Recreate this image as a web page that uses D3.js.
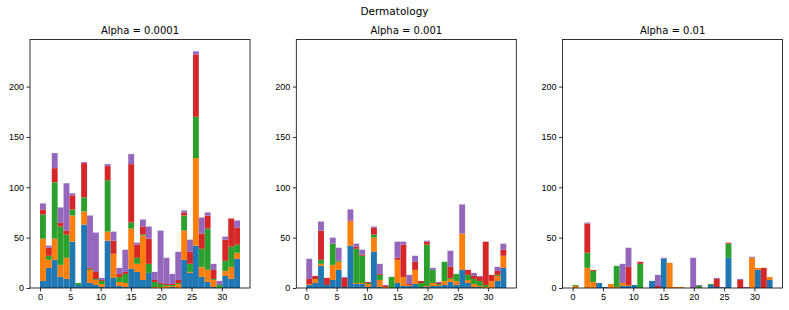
<!DOCTYPE html>
<html>
<head>
<meta charset="utf-8">
<script src="https://cdn.jsdelivr.net/npm/d3@7/dist/d3.min.js"></script>
<style>
  body { margin: 0; background: #fff; }
  svg { display: block; font-family: "DejaVu Sans", sans-serif; }
</style>
</head>
<body>
<div id="chart"></div>
<script>
// bins (one bar per feature index)
const bins = [0, 1, 2, 3, 4, 5, 6, 7, 8, 9, 10, 11, 12, 13, 14, 15, 16, 17, 18, 19, 20,
  21, 22, 23, 24, 25, 26, 27, 28, 29, 30, 31, 32, 33];
const xTicks = [0, 5, 10, 15, 20, 25, 30];
const yTicks = [0, 50, 100, 150, 200];
const suptitle = 'Dermatology';
const panelTitles = ['Alpha = 0.0001', 'Alpha = 0.001', 'Alpha = 0.01'];
const seriesKeys = ['c1', 'c2', 'c3', 'c4', 'c5'];
const seriesColors = ['#1f77b4', '#ff7f0e', '#2ca02c', '#d62728', '#9467bd'];

// Alpha = 0.0001
const a1Blue   = [7, 20, 28, 11, 9, 46, 3, 63, 5, 3, 1, 47, 10, 2, 1, 19, 16, 8, 15, 0, 0, 0, 1, 0, 28, 15, 42, 11, 6, 1, 0, 12, 9, 29];
const a1Orange = [42, 8, 21, 12, 21, 26, 0, 13, 13, 5, 3, 9, 24, 4, 4, 40, 8, 44, 0, 1, 1, 2, 1, 4, 29, 1, 87, 10, 12, 7, 0, 5, 12, 6];
const a1Green  = [24, 4, 56, 38, 23, 6, 2, 14, 1, 1, 3, 51, 0, 5, 9, 6, 6, 1, 9, 5, 3, 1, 1, 1, 15, 8, 41, 18, 41, 1, 3, 10, 20, 8];
const a1Red    = [5, 8, 14, 4, 4, 14, 0, 34, 1, 7, 1, 14, 13, 3, 2, 58, 13, 8, 25, 2, 1, 1, 1, 3, 3, 12, 62, 15, 13, 9, 0, 21, 28, 17];
const a1Purple = [6, 2, 15, 15, 47, 2, 0, 1, 52, 39, 2, 2, 9, 6, 22, 10, 2, 7, 12, 8, 52, 26, 10, 28, 2, 12, 3, 16, 3, 6, 4, 3, 0, 7];

// Alpha = 0.001
const a2Blue   = [3, 5, 22, 3, 8, 18, 1, 42, 4, 4, 1, 36, 1, 0, 0, 5, 2, 2, 4, 1, 1, 2, 2, 3, 6, 3, 18, 5, 1, 1, 0, 0, 7, 20];
const a2Orange = [1, 4, 2, 0, 15, 8, 0, 24, 1, 1, 3, 14, 7, 1, 0, 23, 9, 1, 14, 0, 1, 3, 1, 4, 3, 4, 36, 3, 3, 1, 1, 7, 5, 12];
const a2Green  = [0, 0, 4, 0, 21, 1, 0, 0, 34, 27, 1, 3, 5, 0, 11, 0, 0, 0, 0, 4, 41, 13, 1, 19, 1, 7, 0, 5, 5, 5, 2, 0, 1, 0];
const a2Red    = [5, 3, 29, 7, 0, 0, 9, 1, 2, 1, 1, 7, 1, 1, 0, 2, 32, 1, 8, 2, 3, 0, 1, 0, 11, 0, 0, 5, 3, 4, 43, 6, 4, 6];
const a2Purple = [20, 0, 9, 0, 6, 13, 1, 11, 3, 5, 0, 1, 10, 1, 0, 16, 3, 9, 6, 0, 1, 2, 1, 0, 16, 0, 29, 0, 3, 1, 0, 0, 4, 6];

// Alpha = 0.01
const a3Blue   = [0, 0, 0, 0, 5, 1, 0, 0, 2, 2, 3, 0, 0, 7, 0, 29, 0, 0, 0, 0, 0, 0, 0, 3, 1, 0, 30, 0, 0, 0, 0, 18, 0, 8];
const a3Orange = [2, 0, 20, 6, 0, 0, 4, 1, 3, 1, 0, 0, 0, 0, 0, 0, 25, 1, 1, 0, 0, 0, 0, 0, 0, 0, 0, 0, 0, 0, 30, 2, 0, 3];
const a3Green  = [1, 0, 15, 11, 0, 0, 0, 21, 0, 0, 0, 24, 0, 0, 0, 0, 0, 0, 0, 0, 0, 2, 0, 1, 0, 0, 14, 0, 0, 0, 0, 0, 0, 0];
const a3Red    = [0, 0, 29, 1, 0, 0, 0, 0, 0, 18, 0, 2, 0, 0, 2, 0, 0, 0, 0, 0, 0, 0, 0, 0, 8, 0, 1, 0, 8, 0, 0, 0, 20, 0];
const a3Purple = [0, 0, 1, 0, 0, 0, 0, 0, 19, 19, 0, 0, 0, 0, 11, 1, 0, 0, 0, 0, 30, 1, 0, 0, 1, 1, 0, 0, 1, 1, 1, 0, 0, 0];

const panels = [
  [a1Blue, a1Orange, a1Green, a1Red, a1Purple],
  [a2Blue, a2Orange, a2Green, a2Red, a2Purple],
  [a3Blue, a3Orange, a3Green, a3Red, a3Purple]
];

// layout
const width = 789, height = 310;
const plotTop = 39.5, plotBottom = 288;
const plotHeight = plotBottom - plotTop;
const panelWidth = 220;
const panelLeft = [30, 296.3, 562.6];

const svg = d3.select('#chart').append('svg')
  .attr('width', width)
  .attr('height', height);

svg.append('text')
  .attr('x', width / 2)
  .attr('y', 15)
  .attr('text-anchor', 'middle')
  .style('font-size', '10.5px')
  .text(suptitle);

// histogram: [first, last] split into bins.length equal bins, 5% margin each side
const lo = bins[0], hi = bins[bins.length - 1];
const step = (hi - lo) / bins.length;
const pad = (hi - lo) * 0.05;

const x = d3.scaleLinear().domain([lo - pad, hi + pad]).range([0, panelWidth]);

const stack = d3.stack().keys(seriesKeys);
const allStacks = panels.map(series => {
  const rows = bins.map((b, i) => {
    const r = {bin: b, idx: i};
    seriesKeys.forEach((k, j) => { r[k] = series[j][i]; });
    return r;
  });
  return stack(rows);
});

const maxTotal = d3.max(allStacks, s => d3.max(s[s.length - 1], d => d[1]));
const y = d3.scaleLinear().domain([0, maxTotal * 1.05]).range([plotHeight, 0]);

const xAxis = d3.axisBottom(x).tickValues(xTicks).tickSize(3.5).tickSizeOuter(0).tickPadding(2.5);
const yAxis = d3.axisLeft(y).tickValues(yTicks).tickSize(3.5).tickSizeOuter(0).tickPadding(2.5);

allStacks.forEach((stacked, p) => {
  const g = svg.append('g')
    .attr('transform', `translate(${panelLeft[p]},${plotTop})`);

  // stacked bars
  g.selectAll('g.layer')
    .data(stacked)
    .enter().append('g')
    .attr('class', 'layer')
    .attr('fill', (d, i) => seriesColors[i])
    .selectAll('rect')
    .data(d => d)
    .enter().append('rect')
    .attr('x', d => x(lo + d.data.idx * step))
    .attr('width', d => x(lo + (d.data.idx + 1) * step) - x(lo + d.data.idx * step))
    .attr('y', d => y(d[1]))
    .attr('height', d => y(d[0]) - y(d[1]));

  // x axis
  const gx = g.append('g')
    .attr('transform', `translate(0,${plotHeight})`)
    .call(xAxis);
  // y axis
  const gy = g.append('g').call(yAxis);

  [gx, gy].forEach(a => {
    a.select('.domain').remove();
    a.selectAll('line').attr('stroke', '#000').attr('stroke-width', 0.8);
    a.selectAll('text').attr('fill', '#000').style('font-size', '9px').attr('font-family', null);
  });

  // frame
  g.append('rect')
    .attr('x', 0).attr('y', 0)
    .attr('width', panelWidth)
    .attr('height', plotHeight)
    .attr('fill', 'none')
    .attr('stroke', '#000')
    .attr('stroke-width', 0.8);

  g.append('text')
    .attr('x', panelWidth / 2)
    .attr('y', -6)
    .attr('text-anchor', 'middle')
    .style('font-size', '10px')
    .text(panelTitles[p]);
});
</script>
</body>
</html>
